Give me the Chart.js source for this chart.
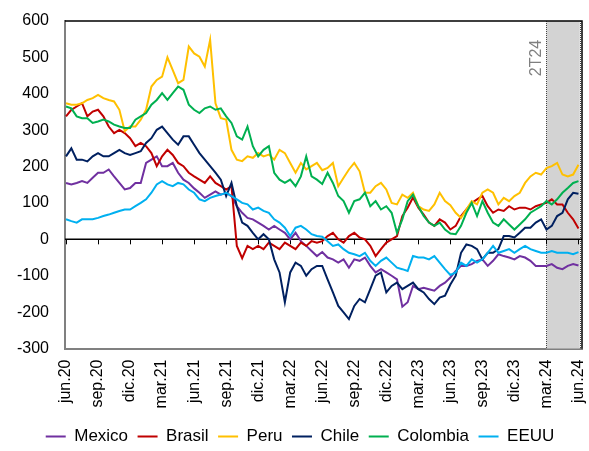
<!DOCTYPE html>
<html><head><meta charset="utf-8">
<script src="https://cdn.jsdelivr.net/npm/chart.js@4/dist/chart.umd.min.js"></script>
<style>html,body{margin:0;padding:0;background:#fff}#wrap{width:589px;height:451px;position:relative}</style>
</head><body><div id="wrap"><canvas id="c" width="589" height="451"></canvas></div>
<script>
// Quarterly tick labels (months since jun.20 = 0, 3, 6, ...)
const tickLabels = ['jun.20','sep.20','dic.20','mar.21','jun.21','sep.21','dic.21','mar.22','jun.22','sep.22','dic.22','mar.23','jun.23','sep.23','dic.23','mar.24','jun.24'];
const seriesNames = ['Mexico','Brasil','Peru','Chile','Colombia','EEUU'];
const seriesColors = ['#7030A0','#C00000','#FFC000','#002060','#00B050','#00B0F0'];

// Values sampled twice a month from jun.20 to jun.24 (pb)
const mexico = [155,151,155,160,155,169,183,183,192,173,155,137,141,155,155,210,219,228,201,201,210,183,164,155,
  140,128,114,123,132,123,128,119,91,73,59,55,46,37,27,37,27,18,0,18,-5,-18,-32,-46,
  -35,-50,-55,-64,-55,-78,-55,-59,-50,-73,-91,-82,-91,-100,-110,-185,-173,-128,-137,-133,-137,-141,-128,-119,
  -105,-87,-73,-73,-68,-59,-55,-73,-59,-41,-46,-50,-55,-46,-50,-59,-73,-73,-73,-68,-78,-82,-73,-68,-72];
const brasil = [338,356,365,374,338,351,356,338,310,292,301,292,278,256,265,256,237,201,228,246,232,210,201,183,
  173,164,155,173,155,146,137,146,-18,-52,-18,-27,-18,-27,-9,-18,-27,-9,-18,-27,-9,-18,-5,-9,
  -5,9,18,0,-9,9,18,5,0,-18,-46,-27,-9,0,9,64,87,115,87,68,46,37,55,46,
  27,37,64,82,100,110,119,91,73,82,78,91,82,87,87,82,91,96,100,110,96,96,73,55,30];
const peru = [374,370,370,374,383,388,397,388,383,379,356,297,310,310,329,356,420,438,447,500,465,429,438,530,
  511,502,475,548,374,333,329,246,219,215,228,224,237,228,233,219,246,237,210,183,210,192,201,210,
  190,196,210,146,169,192,210,187,128,128,146,155,137,100,96,123,114,128,91,82,78,96,128,105,
  94,73,59,82,105,96,128,137,128,96,114,105,119,128,155,173,183,178,196,201,210,178,173,178,205];
const chile = [228,250,219,219,214,228,237,228,228,237,246,237,232,237,242,265,278,301,310,292,274,260,283,283,
  260,237,219,201,183,164,119,155,91,46,37,18,0,14,0,-55,-91,-173,-91,-64,-73,-100,-82,-73,
  -73,-110,-146,-183,-201,-219,-183,-164,-173,-137,-100,-91,-146,-128,-119,-137,-128,-119,-137,-146,-164,-178,-160,-155,
  -124,-100,-37,-14,-18,-27,-55,-37,-37,-27,9,9,5,18,32,32,46,55,27,37,64,73,110,128,125];
const colombia = [365,360,338,333,333,320,324,329,324,315,310,306,306,329,338,347,370,383,402,383,402,420,411,370,
  356,347,360,365,356,360,338,320,283,274,310,256,228,246,256,183,164,155,164,146,173,228,173,164,
  152,183,155,119,105,73,105,110,128,91,105,82,91,73,18,55,105,123,91,64,46,37,46,27,
  16,14,37,73,100,64,105,73,46,37,55,41,27,41,55,73,82,91,105,96,110,128,141,155,160];
const eeuu = [55,50,46,55,55,55,59,64,68,73,78,82,82,91,100,110,128,151,160,151,146,155,151,137,
  128,110,105,114,119,123,128,119,110,100,96,82,87,78,73,55,46,32,9,32,37,27,14,9,
  7,-5,-18,-14,-27,-37,-41,-46,-37,-59,-73,-59,-50,-64,-78,-82,-87,-46,-50,-50,-55,-46,-64,-82,
  -98,-91,-64,-73,-55,-64,-55,-37,-18,-37,-32,-27,-37,-27,-18,-27,-32,-37,-37,-32,-37,-37,-37,-41,-35];
const seriesValues = [mexico, brasil, peru, chile, colombia, eeuu];

// x position of each sample, in months since jun.20
const months = mexico.map((_, i) => i / 2);
const tickMonths = tickLabels.map((_, i) => i * 3);
const shadeStart = 45, shadeEnd = 48.12; // 2T24 band
const FONT = '"Liberation Sans", Arial, sans-serif';

const decor = {
  id: 'decor',
  afterLayout(chart) {
    // legend is centred slightly right of the canvas centre in the original
    chart.legend.left += 9;
    chart.legend.right += 9;
  },
  beforeDatasetsDraw(chart) {
    const {ctx, chartArea: a, scales: {x, y}} = chart;
    const x0 = x.getPixelForValue(shadeStart), x1 = x.getPixelForValue(shadeEnd);
    ctx.save();
    ctx.fillStyle = '#d3d3d3';
    ctx.fillRect(x0, a.top, x1 - x0, a.bottom - a.top);
    ctx.strokeStyle = '#444'; ctx.lineWidth = 1; ctx.setLineDash([1, 1]);
    [x0, x1].forEach(px => {
      ctx.beginPath(); ctx.moveTo(Math.round(px) + 0.5, a.top); ctx.lineTo(Math.round(px) + 0.5, a.bottom); ctx.stroke();
    });
    ctx.setLineDash([]);
    ctx.save();
    ctx.translate(x0 - 10, a.top + 37);
    ctx.rotate(-Math.PI / 2);
    ctx.fillStyle = '#7f7f7f'; ctx.font = '16px ' + FONT;
    ctx.textAlign = 'center'; ctx.textBaseline = 'middle';
    ctx.fillText('2T24', 0, 0);
    ctx.restore();
    // zero line with tick marks
    const y0 = y.getPixelForValue(0);
    ctx.strokeStyle = '#000'; ctx.lineWidth = 1.5;
    ctx.beginPath(); ctx.moveTo(a.left, y0); ctx.lineTo(a.right, y0); ctx.stroke();
    ctx.lineWidth = 1;
    tickMonths.forEach(m => {
      const px = Math.round(x.getPixelForValue(m)) + 0.5;
      ctx.beginPath(); ctx.moveTo(px, y0); ctx.lineTo(px, y0 + 5); ctx.stroke();
    });
    ctx.restore();
  },
  afterDraw(chart) {
    const {ctx, chartArea: a} = chart;
    ctx.save();
    ctx.strokeStyle = '#000'; ctx.lineWidth = 1.5;
    ctx.beginPath(); ctx.moveTo(a.left, a.top); ctx.lineTo(a.right, a.top); ctx.lineTo(a.right, a.bottom); ctx.stroke();
    ctx.restore();
  }
};

new Chart(document.getElementById('c'), {
  type: 'line',
  data: {
    datasets: seriesNames.map((name, k) => ({
      label: name,
      data: seriesValues[k].map((v, i) => ({x: months[i], y: v})),
      borderColor: seriesColors[k],
      backgroundColor: seriesColors[k],
      borderWidth: 2,
      pointRadius: 0,
      tension: 0,
      order: seriesNames.length - k
    }))
  },
  options: {
    responsive: false,
    animation: false,
    devicePixelRatio: 1,
    layout: {padding: {left: 0, right: 7, top: 21, bottom: -4}},
    scales: {
      x: {
        type: 'linear',
        min: -0.094, max: 48.33,
        afterBuildTicks: s => { s.ticks = tickMonths.map(v => ({value: v})); },
        afterFit: s => { s.height = 70; s.paddingLeft = 0; s.paddingRight = 0; },
        grid: {display: false, drawTicks: false},
        border: {display: true, color: '#808080', width: 2},
        ticks: {
          autoSkip: false, maxRotation: 90, minRotation: 90, padding: 11,
          color: '#000', font: {family: FONT, size: 16},
          callback: v => tickLabels[tickMonths.indexOf(v)] ?? ''
        }
      },
      y: {
        min: -300, max: 600,
        afterFit: s => { s.width = 65; s.paddingTop = 0; s.paddingBottom = 0; },
        grid: {display: false, drawTicks: false},
        border: {display: true, color: '#808080', width: 2},
        ticks: {stepSize: 100, padding: 16, color: '#000', font: {family: FONT, size: 16}}
      }
    },
    plugins: {
      legend: {
        position: 'bottom',
        labels: {
          usePointStyle: true, pointStyle: 'line', pointStyleWidth: 20,
          padding: 9.5, color: '#000', font: {family: FONT, size: 17},
          sort: (a, b) => a.datasetIndex - b.datasetIndex
        }
      },
      tooltip: {enabled: false}
    }
  },
  plugins: [decor]
});
</script></body></html>
